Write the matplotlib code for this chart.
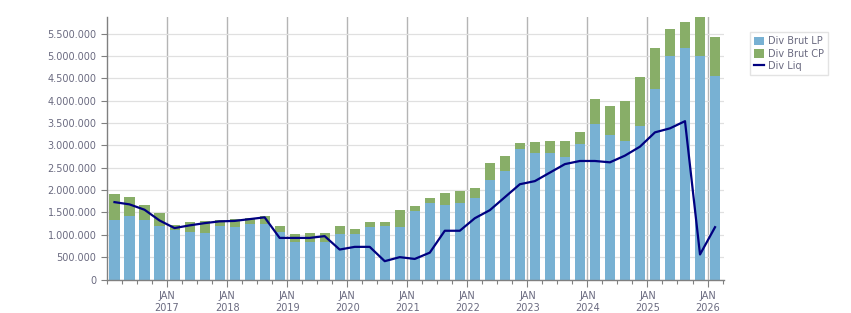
import numpy as np
import matplotlib
matplotlib.use("Agg")
import matplotlib.pyplot as plt
from matplotlib.ticker import FuncFormatter, FixedLocator

# quarterly data, Q1 2016 .. Q1 2026 (values in millions)
years = list(range(2017, 2027))
div_brut_lp = [1.32, 1.41, 1.34, 1.19, 1.11, 1.06, 1.03, 1.20, 1.17, 1.24,
               1.24, 1.06, 0.84, 0.84, 0.84, 1.02, 1.02, 1.17, 1.20, 1.17,
               1.53, 1.70, 1.67, 1.71, 1.83, 2.23, 2.43, 2.92, 2.83, 2.82,
               2.73, 3.03, 3.48, 3.23, 3.09, 3.43, 4.27, 4.99, 5.17, 4.99, 4.56]
div_brut_cp = [0.59, 0.43, 0.32, 0.29, 0.10, 0.22, 0.27, 0.12, 0.18, 0.13,
               0.17, 0.13, 0.17, 0.21, 0.21, 0.17, 0.12, 0.11, 0.08, 0.38,
               0.11, 0.12, 0.27, 0.27, 0.22, 0.38, 0.34, 0.14, 0.25, 0.28,
               0.36, 0.26, 0.55, 0.64, 0.89, 1.09, 0.90, 0.62, 0.58, 0.87, 0.87]
div_liq = [1.73, 1.68, 1.56, 1.32, 1.15, 1.21, 1.26, 1.30, 1.31, 1.35,
           1.39, 0.93, 0.93, 0.93, 0.97, 0.67, 0.73, 0.73, 0.41, 0.50,
           0.46, 0.60, 1.09, 1.09, 1.37, 1.55, 1.84, 2.13, 2.20, 2.39,
           2.58, 2.65, 2.65, 2.62, 2.77, 2.97, 3.29, 3.38, 3.54, 0.56, 1.17]

lp = np.array(div_brut_lp) * 1e6
cp = np.array(div_brut_cp) * 1e6
liq = np.array(div_liq) * 1e6
x = np.arange(len(lp))

c_lp = "#78b1d3"
c_cp = "#88ae68"
c_liq = "#000080"
txt = "#6a6a80"

fig = plt.figure(figsize=(8.51, 3.13), dpi=100)
ax = fig.add_axes([0.1257, 0.107, 0.7251, 0.8388])

b1 = ax.bar(x, lp, width=0.67, color=c_lp, label="Div Brut LP", zorder=2)
b2 = ax.bar(x, cp, width=0.67, bottom=lp, color=c_cp, label="Div Brut CP", zorder=2)
l1, = ax.plot(x, liq, color=c_liq, lw=1.6, label="Div Liq", zorder=3)

ax.set_ylim(0, 5.87e6)
ax.set_xlim(-0.5, 40.6)

ax.set_yticks(np.arange(0, 5.5e6 + 1, 5e5))
ax.yaxis.set_major_formatter(FuncFormatter(lambda v, p: f"{int(round(v)):,}".replace(",", ".")))
ax.yaxis.grid(True, color="#e0e0e0", lw=0.9, zorder=0)

# year boundaries as major ticks, quarters as minor ticks
year_pos = [4 * (i + 1) - 0.5 for i in range(len(years))]
ax.xaxis.set_major_locator(FixedLocator(year_pos))
ax.set_xticklabels([f"JAN\n{y}" for y in years])
ax.xaxis.set_minor_locator(FixedLocator([i - 0.5 for i in range(len(x) + 1)]))
ax.xaxis.grid(True, which="major", color="#b4b4b4", lw=1.0, zorder=0)
ax.set_axisbelow(True)

ax.tick_params(axis="y", labelsize=7, colors="#808080", labelcolor=txt, length=4, width=0.8)
ax.tick_params(axis="x", which="major", labelsize=7, colors="#808080", labelcolor=txt, length=5, width=0.8)
ax.tick_params(axis="x", which="minor", colors="#808080", length=3, width=0.8)

for s in ["top", "right"]:
    ax.spines[s].set_visible(False)
for s in ["left", "bottom"]:
    ax.spines[s].set_color("#808080")
    ax.spines[s].set_linewidth(1.0)

leg = fig.legend([b1, b2, l1], ["Div Brut LP", "Div Brut CP", "Div Liq"],
                 loc="upper left", bbox_to_anchor=(0.876, 0.912), fontsize=7,
                 frameon=True, fancybox=False, handlelength=1.0, handleheight=1.0,
                 handletextpad=0.4, borderpad=0.4, labelspacing=0.25, labelcolor=txt)
leg.get_frame().set_edgecolor("#dddddd")
leg.get_frame().set_linewidth(1.0)

fig.savefig("out.png", dpi=100)
